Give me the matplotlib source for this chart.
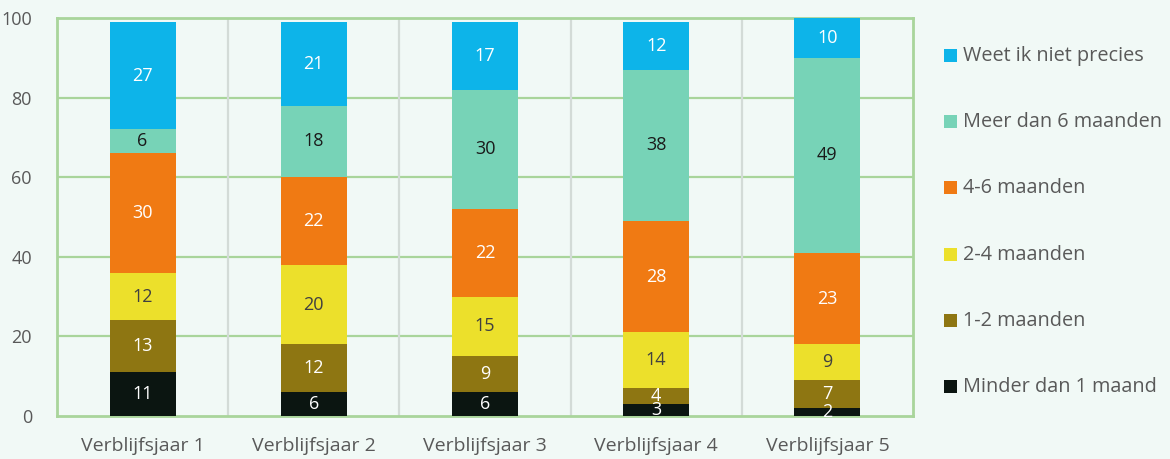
import matplotlib
matplotlib.use("Agg")
import matplotlib.pyplot as plt
from matplotlib.patches import Rectangle
import numpy as np

categories = ["Verblijfsjaar 1", "Verblijfsjaar 2", "Verblijfsjaar 3", "Verblijfsjaar 4", "Verblijfsjaar 5"]
series_names = ["Minder dan 1 maand", "1-2 maanden", "2-4 maanden", "4-6 maanden",
                "Meer dan 6 maanden", "Weet ik niet precies"]
minder_1 = [11, 6, 6, 3, 2]
m1_2 = [13, 12, 9, 4, 7]
m2_4 = [12, 20, 15, 14, 9]
m4_6 = [30, 22, 22, 28, 23]
meer_6 = [6, 18, 30, 38, 49]
weet_niet = [27, 21, 17, 12, 10]
series = [minder_1, m1_2, m2_4, m4_6, meer_6, weet_niet]
colors = ["#0b1511", "#8e7612", "#ece02b", "#f07a13", "#77d3b7", "#0db4e9"]
label_colors = ["white", "white", "#404040", "white", "#1a1a1a", "white"]
yticks = [0, 20, 40, 60, 80, 100]

plt.rcParams['font.family'] = ['Open Sans', 'DejaVu Sans']
bg = "#f1f9f6"
frame = "#a9d59b"
txt = "#595959"

fig = plt.figure(figsize=(11.7, 4.59), dpi=100, facecolor=bg)
ax = fig.add_axes([57/1170, 1-416/459, 856/1170, 398/459], facecolor=bg)

x = np.arange(len(categories))
bottom = np.zeros(len(categories))
for vals, c, lc in zip(series, colors, label_colors):
    vals = np.array(vals, dtype=float)
    ax.bar(x, vals, bottom=bottom, width=0.385, color=c, zorder=3)
    for xi, b, v in zip(x, bottom, vals):
        ax.text(xi, b + v/2, f"{int(v)}", ha="center", va="center", color=lc,
                fontsize=13, zorder=4)
    bottom += vals

ax.set_xlim(-0.5, len(categories) - 0.5)
ax.set_ylim(0, 100)
ax.set_yticks(yticks)
ax.set_yticklabels([str(t) for t in yticks])
ax.set_xticks(x)
ax.set_xticklabels(categories)
ax.tick_params(axis='both', length=0, colors=txt)
ax.tick_params(axis='x', pad=15, labelsize=14)
ax.tick_params(axis='y', pad=18, labelsize=13)
for t in yticks[1:-1]:
    ax.axhline(t, color=frame, lw=1.6, zorder=1)
for xs in np.arange(0.5, len(categories) - 0.5, 1):
    ax.axvline(xs, color="#d3dbd7", lw=1.6, zorder=1)
for s in ax.spines.values():
    s.set_color(frame)
    s.set_linewidth(2)

# legend (top to bottom)
leg_y = [56, 122, 188, 255, 321, 387]
for i, yy in enumerate(leg_y):
    idx = len(series) - 1 - i
    fig.add_artist(Rectangle((944/1170, 1-(yy+6)/459), 13/1170, 13/459,
                             transform=fig.transFigure, color=colors[idx], lw=0))
    fig.text(963/1170, 1-yy/459, series_names[idx], ha="left", va="center",
             color=txt, fontsize=14.3)

fig.savefig("out.png", dpi=100, facecolor=bg)
